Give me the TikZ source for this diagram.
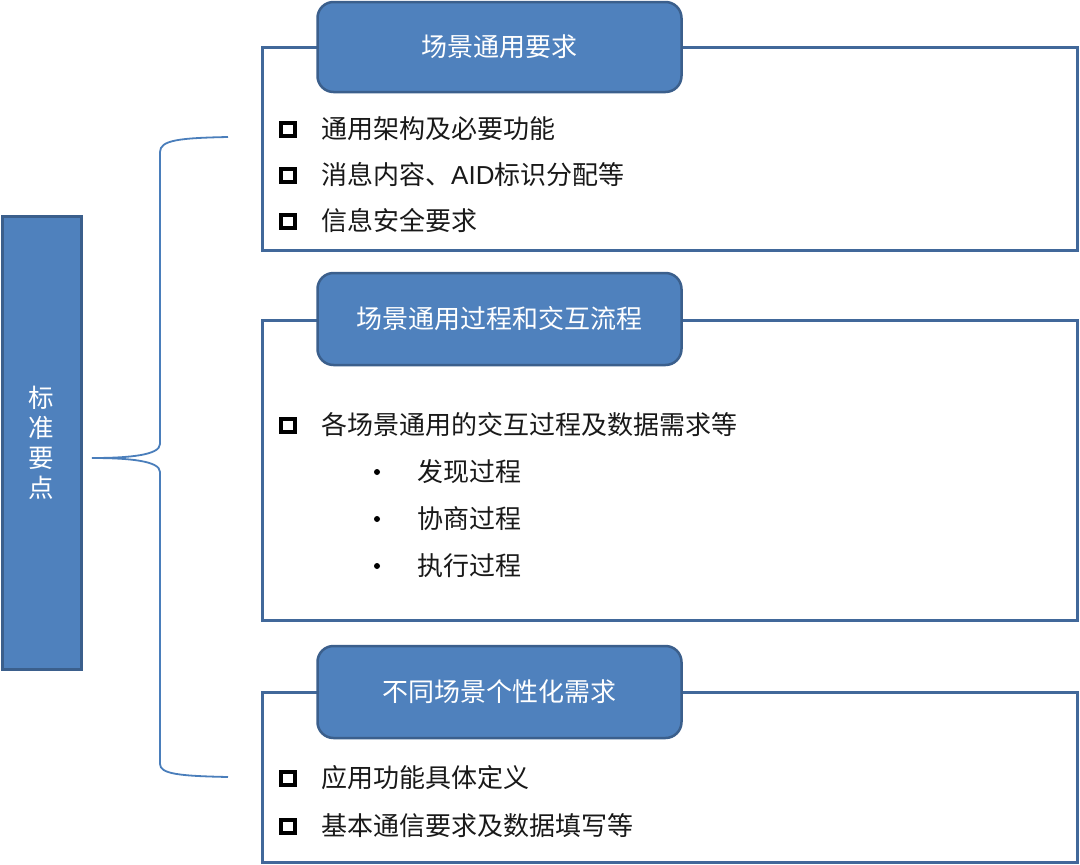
\documentclass[tikz,border=0pt]{standalone}
\usepackage{fontspec}
\setmainfont{Liberation Sans}
\newfontfamily\cjk{Noto Sans CJK SC}
\definecolor{fillblue}{HTML}{4F81BD}
\definecolor{edgeblue}{HTML}{3B5F8C}
\definecolor{boxedge}{HTML}{41689A}
\definecolor{bracecol}{HTML}{4A7EBB}
\tikzset{
  bar/.style={draw=edgeblue, line width=3pt, fill=fillblue, text=white,
    minimum width=79pt, minimum height=453pt, inner sep=0pt, align=center,
    font=\cjk\fontsize{25.5}{30}\selectfont},
  panel/.style={draw=boxedge, line width=3pt, fill=white,
    minimum width=815pt, inner sep=0pt},
  header/.style={draw=edgeblue, line width=2.5pt, fill=fillblue, rounded corners=16pt,
    text=white, minimum width=364pt, minimum height=90pt, inner sep=0pt,
    font=\cjk\fontsize{26}{30}\selectfont},
  item/.style={anchor=west, inner sep=0pt, text=black!90,
    font=\cjk\fontsize{26}{30}\selectfont},
  sq/.style={draw=black, line width=4pt, minimum width=14pt, minimum height=13pt, inner sep=0pt},
  dotmark/.style={circle, fill=black, minimum size=6pt, inner sep=0pt},
  brace/.style={draw=bracecol, line width=1.8pt}
}
\begin{document}
\begin{tikzpicture}[x=1pt,y=-1pt]
\useasboundingbox (0,0) rectangle (1080,865);
\fill[white] (0,0) rectangle (1080,865);

% left bar
\node[bar] (bar) at (41.5,442.5) {标\\准\\要\\点};

% brace
\coordinate (btop) at (228,137);
\coordinate (btip) at (92,458);
\coordinate (bbot) at (228,777);
\draw[brace] (btop) .. controls (180,138) and (160,140) .. (160,152) -- (160,444)
  .. controls (160,455) and (130,458) .. (btip)
  .. controls (130,458) and (160,461) .. (160,472) -- (160,764)
  .. controls (160,774) and (180,776) .. (bbot);

% panels
\node[panel, minimum height=203pt] (p1) at (669.5,148.5) {};
\node[panel, minimum height=300pt] (p2) at (669.5,470) {};
\node[panel, minimum height=170pt] (p3) at (669.5,777) {};

% headers
\node[header] (h1) at (499.5,47) {场景通用要求};
\node[header, minimum height=92pt] (h2) at (499.5,319) {场景通用过程和交互流程};
\node[header, minimum height=92pt] (h3) at (499.5,692) {不同场景个性化需求};

% panel 1 items
\node[sq] (s11) at (288,129) {};
\node[item] (t11) at (321,129) {通用架构及必要功能};
\node[sq] (s12) at (288,175) {};
\node[item] (t12) at (321,175) {消息内容、\fontspec{Liberation Sans}AID\cjk 标识分配等};
\node[sq] (s13) at (288,221) {};
\node[item] (t13) at (321,221) {信息安全要求};

% panel 2 items
\node[sq] (s21) at (288,425) {};
\node[item] (t21) at (321,425) {各场景通用的交互过程及数据需求等};
\node[dotmark] (d1) at (377,472) {};
\node[item] (u1) at (417,472) {发现过程};
\node[dotmark] (d2) at (377,519) {};
\node[item] (u2) at (417,519) {协商过程};
\node[dotmark] (d3) at (377,566) {};
\node[item] (u3) at (417,566) {执行过程};

% panel 3 items
\node[sq] (s31) at (288,778) {};
\node[item] (t31) at (321,778) {应用功能具体定义};
\node[sq] (s32) at (288,826) {};
\node[item] (t32) at (321,826) {基本通信要求及数据填写等};
\end{tikzpicture}
\end{document}
